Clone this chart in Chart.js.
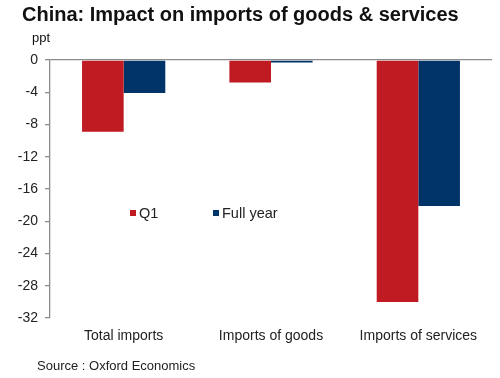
<!DOCTYPE html>
<html><head><meta charset="utf-8">
<script src="https://cdn.jsdelivr.net/npm/chart.js@4/dist/chart.umd.min.js"></script>
<style>
html,body{margin:0;padding:0;background:#fff;}
#wrap{position:relative;width:500px;height:378px;overflow:hidden;font-family:"Liberation Sans",Arial,sans-serif;color:#111;}
#title{position:absolute;left:22px;top:3px;font-size:20px;font-weight:bold;white-space:nowrap;}
#unit{position:absolute;left:32px;top:30px;font-size:13px;}
#source{position:absolute;left:37px;top:358px;font-size:13px;color:#222;white-space:nowrap;}
canvas{position:absolute;left:0;top:0;}
</style></head>
<body><div id="wrap">
<canvas id="c" width="500" height="378"></canvas>
<div id="title">China: Impact on imports of goods &amp; services</div>
<div id="unit">ppt</div>
<div id="source">Source : Oxford Economics</div>
</div>
<script>
const categories = ["Total imports", "Imports of goods", "Imports of services"];
const seriesNames = ["Q1", "Full year"];
const q1Values = [-8.9, -2.8, -30.0];
const fullYearValues = [-4.1, -0.3, -18.1];
const yTicks = [0, -4, -8, -12, -16, -20, -24, -28, -32];

const RED = "rgb(192,27,35)";
const NAVY = "rgb(0,52,104)";
const FONT = "'Liberation Sans', Arial, sans-serif";

const legendPlugin = {
  id: "inlineLegend",
  afterDraw(chart) {
    const ctx = chart.ctx;
    const xs = [130, 213];
    const y = 213;
    ctx.save();
    ctx.font = "14.5px " + FONT;
    ctx.textBaseline = "middle";
    chart.data.datasets.forEach((ds, i) => {
      ctx.fillStyle = ds.backgroundColor;
      ctx.fillRect(xs[i], y - 3, 6, 6);
      ctx.fillStyle = "#222";
      ctx.fillText(ds.label, xs[i] + 9, y + 1);
    });
    ctx.restore();
  }
};

new Chart(document.getElementById("c"), {
  type: "bar",
  data: {
    labels: categories,
    datasets: [
      { label: seriesNames[0], data: q1Values, backgroundColor: RED },
      { label: seriesNames[1], data: fullYearValues, backgroundColor: NAVY }
    ]
  },
  options: {
    responsive: false,
    animation: false,
    layout: { padding: { left: 0, right: 8, top: 60, bottom: 0 } },
    plugins: { legend: { display: false }, tooltip: { enabled: false }, title: { display: false } },
    datasets: { bar: { categoryPercentage: 0.565, barPercentage: 1.0 } },
    scales: {
      x: {
        grid: { display: false, drawTicks: false },
        border: { display: false },
        ticks: { color: "#222", font: { family: FONT, size: 14 }, padding: 10, maxRotation: 0 },
        afterFit(s) { s.height = 60; }
      },
      y: {
        min: -32, max: 0,
        afterBuildTicks(s) { s.ticks = yTicks.map(v => ({ value: v })); },
        grid: {
          color: c => (c.tick && c.tick.value === 0) ? "#8c8c8c" : "rgba(0,0,0,0)",
          tickColor: "#8c8c8c",
          tickLength: 5,
          drawTicks: true,
          lineWidth: 1.3
        },
        border: { display: true, color: "#8c8c8c", width: 1.3 },
        ticks: { color: "#222", font: { family: FONT, size: 14 }, padding: 7 },
        afterFit(s) { s.width = 50; }
      }
    }
  },
  plugins: [legendPlugin]
});
</script>
</body></html>
